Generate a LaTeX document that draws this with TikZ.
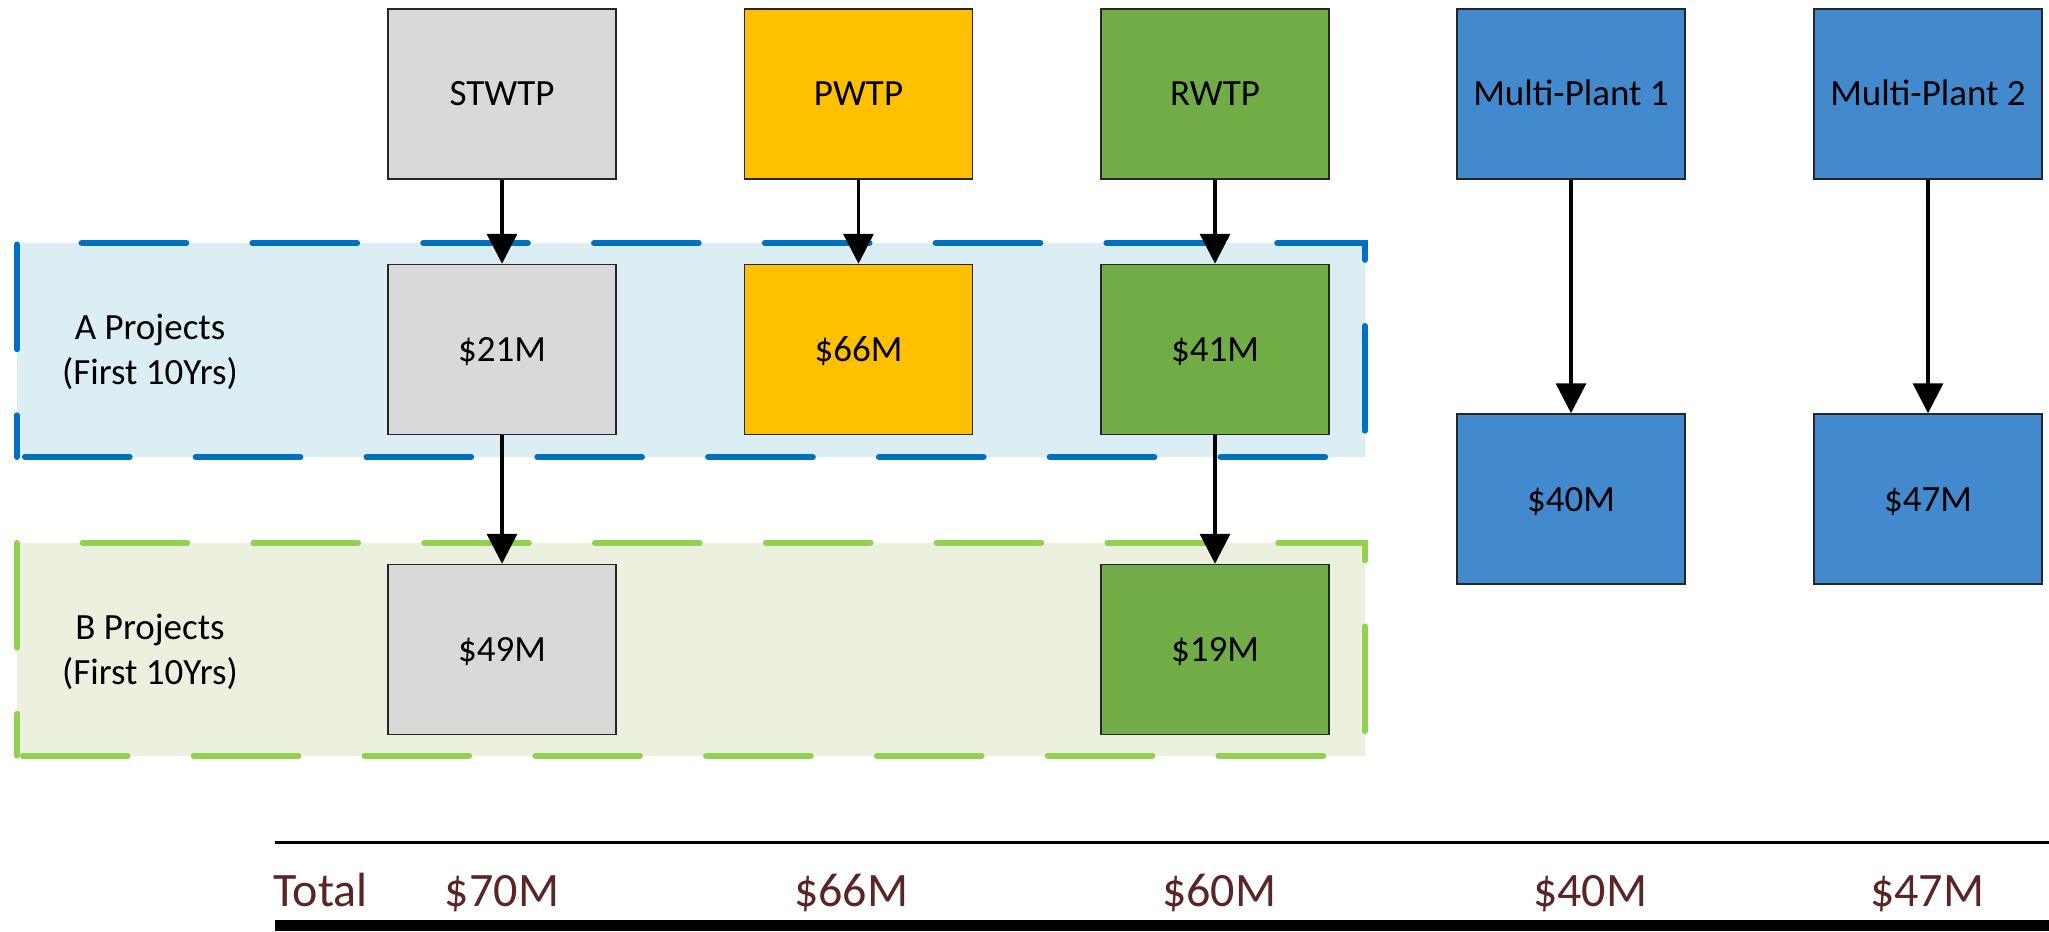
\documentclass[tikz,border=0pt]{standalone}
\usepackage{fontspec}
\setmainfont{Carlito}
\usetikzlibrary{arrows.meta}
\definecolor{gbox}{HTML}{D9D9D9}
\definecolor{ybox}{HTML}{FFC000}
\definecolor{grbox}{HTML}{70AD47}
\definecolor{bbox}{HTML}{4389CE}
\definecolor{bdash}{HTML}{0070C0}
\definecolor{bfill}{HTML}{DAEEF3}
\definecolor{gdash}{HTML}{92D050}
\definecolor{gfill}{HTML}{EBF1DE}
\definecolor{tot}{RGB}{89,38,36}
\begin{document}
\begin{tikzpicture}[x=1pt,y=-1pt,
  box/.style={draw=black!85, line width=1.5pt, minimum width=228pt, minimum height=170pt,
    inner sep=0pt, font=\fontsize{37}{44}\selectfont, text height=24pt, text depth=0pt},
  band/.style={line width=6pt, line cap=round, dash pattern=on 104.7pt off 66.1pt, dash phase=63pt},
  arr/.style={line width=3.5pt, -{Triangle[width=30pt,length=30pt]}},
  rowlabel/.style={align=center, font=\fontsize{37}{45}\selectfont, inner sep=0pt},
  totlabel/.style={text=tot, font=\fontsize{48}{56}\selectfont, inner sep=0pt, anchor=base}]
\useasboundingbox (0,0) rectangle (2049,931);

% bands
\fill[bfill] (17,243) rectangle (1365,457);
\draw[band, draw=bdash] (17,457) -- (17,243) -- (1365,243) -- (1365,457) -- cycle;
\fill[gfill] (17,542.5) rectangle (1365,755.5);
\draw[band, draw=gdash] (17,755.5) -- (17,542.5) -- (1365,542.5) -- (1365,755.5) -- cycle;

\node[rowlabel] (alab) at (150,352) {A Projects\\(First 10Yrs)};
\node[rowlabel] (blab) at (150,652) {B Projects\\(First 10Yrs)};

% top boxes
\node[box, fill=gbox]  (st) at (502,94) {STWTP};
\node[box, fill=ybox]  (pw) at (858.5,94) {PWTP};
\node[box, fill=grbox] (rw) at (1215,94) {RWTP};
\node[box, fill=bbox]  (m1) at (1571,94) {Multi-Plant 1};
\node[box, fill=bbox]  (m2) at (1928,94) {Multi-Plant 2};

% A row
\node[box, fill=gbox]  (sta) at (502,349.5) {\$21M};
\node[box, fill=ybox]  (pwa) at (858.5,349.5) {\$66M};
\node[box, fill=grbox] (rwa) at (1215,349.5) {\$41M};
% B row
\node[box, fill=gbox]  (stb) at (502,649.5) {\$49M};
\node[box, fill=grbox] (rwb) at (1215,649.5) {\$19M};
% multi-plant results
\node[box, fill=bbox]  (m1r) at (1571,499) {\$40M};
\node[box, fill=bbox]  (m2r) at (1928,499) {\$47M};

% arrows
\draw[arr] (st) -- (sta);
\draw[arr] (pw) -- (pwa);
\draw[arr] (rw) -- (rwa);
\draw[arr] (sta) -- (stb);
\draw[arr] (rwa) -- (rwb);
\draw[arr] (m1) -- (m1r);
\draw[arr] (m2) -- (m2r);

% totals
\coordinate (tl) at (274.6,842.5);
\coordinate (tr) at (2049,842.5);
\draw[line width=3.5pt] (tl) -- (tr);
\fill (274.6,920) rectangle (2049,931);
\node[totlabel, anchor=base west] (total) at (273.5,906) {Total};
\node[totlabel] (t1) at (502,906) {\$70M};
\node[totlabel] (t2) at (851,906) {\$66M};
\node[totlabel] (t3) at (1219,906) {\$60M};
\node[totlabel] (t4) at (1590,906) {\$40M};
\node[totlabel] (t5) at (1927,906) {\$47M};
\end{tikzpicture}
\end{document}
